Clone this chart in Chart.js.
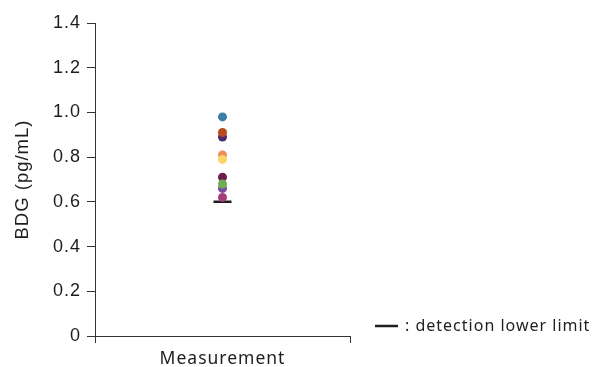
<!DOCTYPE html>
<html>
<head>
<meta charset="utf-8">
<script src="https://cdn.jsdelivr.net/npm/chart.js@4.4.1/dist/chart.umd.min.js"></script>
<style>
  html, body { margin: 0; padding: 0; background: #fff; }
  #wrap { width: 593px; height: 367px; }
</style>
</head>
<body>
<div id="wrap"><canvas id="chart" width="593" height="367"></canvas></div>
<script>
const categories = ['Measurement'];
const bdgValues = [0.98, 0.89, 0.91, 0.81, 0.79, 0.71, 0.66, 0.68, 0.62];
const pointColors = ['#3d7ea6', '#4b2c6b', '#b84a1c', '#f28b5b', '#fdd468', '#6a1f4d', '#7b4aa5', '#6fae4c', '#a53c7b'];
const detectionLimit = [0.6];
const yTicks = [0, 0.2, 0.4, 0.6, 0.8, 1.0, 1.2, 1.4];

const axisColor = '#333';
const textColor = '#1e1e1e';

// legend for the detection limit, drawn next to the plot
const limitLegend = {
  id: 'limitLegend',
  beforeDraw(chart) {
    chart.ctx.letterSpacing = '1px';
  },
  afterDraw(chart) {
    const c = chart.ctx;
    c.save();
    c.strokeStyle = textColor;
    c.lineWidth = 2.5;
    c.beginPath();
    c.moveTo(375, 326);
    c.lineTo(398, 326);
    c.stroke();
    c.letterSpacing = '1px';
    c.fillStyle = textColor;
    c.font = '16px "Noto Sans"';
    c.textBaseline = 'middle';
    c.fillText(': detection lower limit', 405, 326);
    c.restore();
  }
};

const ctx = document.getElementById('chart').getContext('2d');
const myChart = new Chart(ctx, {
  type: 'scatter',
  data: {
    labels: categories,
    datasets: [{
      label: 'BDG',
      data: bdgValues.map(v => ({ x: categories[0], y: v })),
      backgroundColor: pointColors,
      borderWidth: 0,
      pointRadius: 4.5,
      pointHoverRadius: 4.5
    }, {
      label: 'detection lower limit',
      data: detectionLimit.map(v => ({ x: categories[0], y: v })),
      pointStyle: 'line',
      pointRadius: 9,
      borderColor: textColor,
      borderWidth: 2.5
    }]
  },
  options: {
    responsive: false,
    animation: false,
    layout: { padding: { top: 23, right: 243, left: 0, bottom: 0 } },
    plugins: {
      legend: { display: false },
      tooltip: { enabled: false }
    },
    scales: {
      x: {
        type: 'category',
        labels: categories,
        offset: true,
        afterFit: (scale) => { scale.height = 31; },
        grid: { offset: true, drawOnChartArea: false, tickLength: 7, color: axisColor },
        border: { color: axisColor },
        ticks: { color: textColor, padding: 6, font: { family: 'Noto Sans', size: 17.5 } }
      },
      y: {
        min: 0,
        max: 1.4,
        afterFit: (scale) => { scale.width = 95; },
        afterBuildTicks: (scale) => { scale.ticks = yTicks.map(v => ({ value: v })); },
        grid: { drawOnChartArea: false, tickLength: 8, color: axisColor },
        border: { color: axisColor },
        ticks: {
          color: textColor,
          padding: 6,
          font: { family: 'Liberation Sans', size: 18 },
          callback: (v) => v === 0 ? '0' : v.toFixed(1)
        },
        title: {
          display: true,
          text: 'BDG (pg/mL)',
          color: textColor,
          padding: { top: 12, bottom: 4 },
          font: { family: 'Liberation Sans', size: 18.5 }
        }
      }
    }
  },
  plugins: [limitLegend]
});
</script>
</body>
</html>
